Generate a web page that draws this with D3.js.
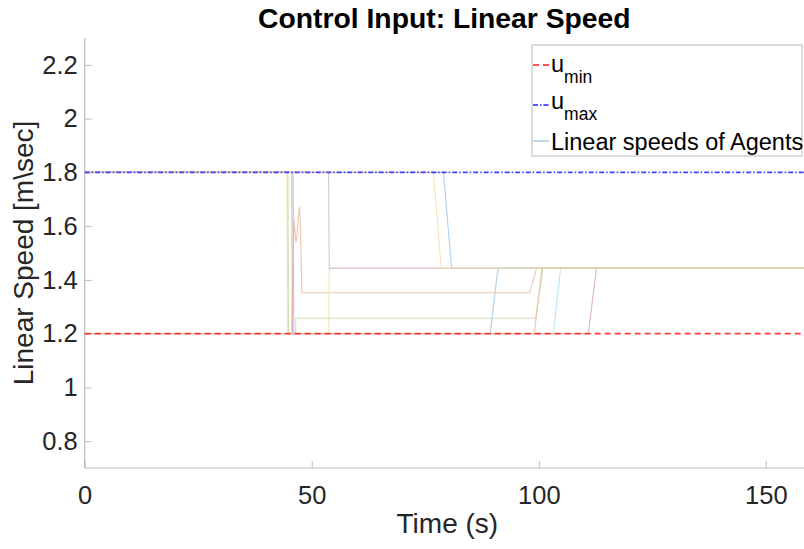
<!DOCTYPE html>
<html><head><meta charset="utf-8">
<script src="https://cdn.jsdelivr.net/npm/d3@7"></script>
<style>body{margin:0;background:#fff}svg{display:block;font-family:"Liberation Sans",Arial,sans-serif}</style>
</head><body><svg id="c" width="804" height="549"></svg>
<script>
// ---- data ----
const uMin = 1.2, uMax = 1.8;
const xDomain = [0, 158.4];
const yDomain = [0.7, 2.3];
const xTicks = [0, 50, 100, 150];
const yTicks = [0.8, 1, 1.2, 1.4, 1.6, 1.8, 2, 2.2];
const agent1 = [[0,1.8],[45.9,1.8],[46.05,1.2],[89.3,1.2],[91.0,1.443],[158.4,1.443]];
const agent2 = [[0,1.2],[45.6,1.2],[46.1,1.623],[46.3,1.575],[46.55,1.54],[46.8,1.57],[47.05,1.635],[47.3,1.672],[47.5,1.6],[47.83,1.352],[98.0,1.352],[99.5,1.443],[158.4,1.443]];
const agent3 = [[0,1.8],[44.55,1.8],[44.7,1.2],[53.75,1.2],[53.85,1.443],[158.4,1.443]];
const agent4 = [[0,1.8],[53.7,1.8],[53.85,1.443],[158.4,1.443]];
const agent5 = [[0,1.8],[44.75,1.8],[44.9,1.2],[46.45,1.2],[46.5,1.257],[99.3,1.257],[100.9,1.443],[158.4,1.443]];
const agent6 = [[0,1.2],[103.2,1.2],[104.8,1.443],[158.4,1.443]];
const agent7 = [[0,1.8],[45.6,1.8],[45.75,1.2],[110.9,1.2],[112.7,1.443],[158.4,1.443]];
const agent8 = [[0,1.8],[79.0,1.8],[80.8,1.443],[158.4,1.443]];
const agent9 = [[0,1.2],[99.0,1.2],[100.7,1.443],[158.4,1.443]];
const agent10 = [[0,1.8],[76.8,1.8],[78.5,1.443],[158.4,1.443]];
const agents = [agent1,agent2,agent3,agent4,agent5,agent6,agent7,agent8,agent9,agent10];
const agentColors = ["#9fc6e2","#eab69c","#f6dc9c","#cdb4d6","#c2da9e","#ace0f4","#d9a0ae"];
const legendLabels = ["u","u","Linear speeds of Agents"];
const legendSubs = ["min","max",""];

// ---- layout ----
const svg = d3.select("#c");
const L = 84.7, R = 804, T = 38, B = 468;
const x = d3.scaleLinear().domain(xDomain).range([L, R]);
const y = d3.scaleLinear().domain(yDomain).range([B, T]);
const axisGray = "#bdbdbd", textCol = "#262626";

// axes
const gx = svg.append("g").attr("transform", `translate(0,${B})`)
  .call(d3.axisBottom(x).tickValues(xTicks).tickSize(-7).tickPadding(14).tickFormat(d3.format("d")));
const gy = svg.append("g").attr("transform", `translate(${L},0)`)
  .call(d3.axisLeft(y).tickValues(yTicks).tickSize(-7).tickPadding(7).tickFormat(d => String(+d.toFixed(1))));
[gx, gy].forEach(g => {
  g.select(".domain").attr("stroke", axisGray).attr("stroke-width", 1.2);
  g.selectAll(".tick line").attr("stroke", axisGray);
  g.selectAll(".tick text").attr("fill", textCol).style("font-size", "25.5px").style("font-family", '"Liberation Sans",Arial,sans-serif');
});
gx.selectAll(".tick text").attr("dy", "0.71em").attr("y", 18);
gy.selectAll(".tick text").attr("x", -7);
gx.select(".domain").attr("d", `M${L},0H${R}`);
gy.select(".domain").attr("d", `M0,${T}V${B}`);

const line = d3.line().x(d => x(d[0])).y(d => y(d[1]));

// agent lines
svg.append("g").selectAll("path").data(agents).join("path")
  .attr("d", line).attr("fill","none")
  .attr("stroke", (d,i) => agentColors[i % agentColors.length])
  .attr("stroke-width", 1.1).attr("stroke-opacity", 0.8);

// reference lines
svg.append("path").attr("d", line([[xDomain[0],uMin],[xDomain[1],uMin]]))
  .attr("fill","none").attr("stroke","#ff1a1a").attr("stroke-width",1.6).attr("stroke-opacity",0.85).attr("stroke-dasharray","6,4");
svg.append("path").attr("d", line([[xDomain[0],uMax],[xDomain[1],uMax]]))
  .attr("fill","none").attr("stroke","#2222ff").attr("stroke-width",1.6).attr("stroke-opacity",0.85).attr("stroke-dasharray","5,2,1.5,2");

// title & labels
svg.append("text").attr("x", (L+R)/2).attr("y", 28).attr("text-anchor","middle")
  .style("font-size","28.3px").style("font-weight","bold").attr("fill","#000").text("Control Input: Linear Speed");
svg.append("text").attr("x", (L+R)/2 + 3).attr("y", 533).attr("text-anchor","middle")
  .style("font-size","28px").attr("fill",textCol).text("Time (s)");
svg.append("text").attr("transform", `translate(33,${(T+B)/2}) rotate(-90)`).attr("text-anchor","middle")
  .style("font-size","28px").attr("fill",textCol).text("Linear Speed [m\\sec]");

// legend
const lg = svg.append("g");
lg.append("rect").attr("x",532).attr("y",45).attr("width",270).attr("height",111)
  .attr("fill","#fff").attr("stroke","#b8b8b8").attr("stroke-width",1);
const legY = [65, 105, 141];
const legBase = [72, 109, 150];
const legStroke = ["#ff1a1a","#2222ff",agentColors[0]];
const legDash = ["6,4","5,2,1.5,2",null];
legY.forEach((ly,i) => {
  lg.append("line").attr("x1",533).attr("x2",549).attr("y1",ly).attr("y2",ly)
    .attr("stroke",legStroke[i]).attr("stroke-width",1.4).attr("stroke-dasharray",legDash[i]);
  const t = lg.append("text").attr("x",551).attr("y",legBase[i]).attr("fill","#000").style("font-size","23.5px");
  t.append("tspan").text(legendLabels[i]);
  if (legendSubs[i]) t.append("tspan").attr("dy", 11).style("font-size","17.5px").text(legendSubs[i]);
});
</script></body></html>
